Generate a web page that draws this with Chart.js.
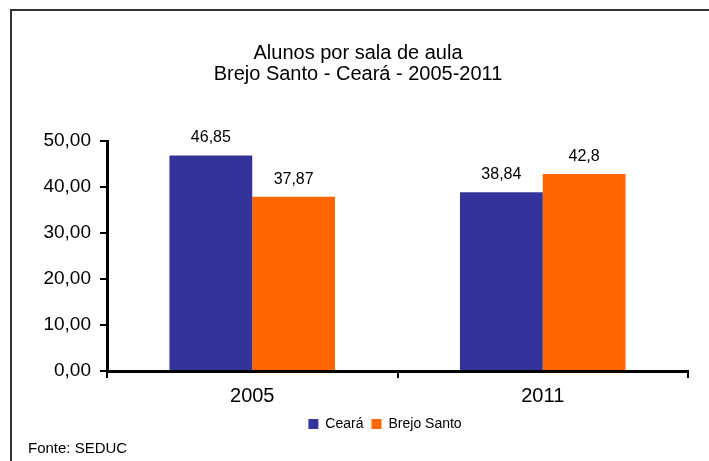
<!DOCTYPE html>
<html>
<head>
<meta charset="utf-8">
<script src="https://cdn.jsdelivr.net/npm/chart.js@4"></script>
<style>
    body { margin: 0; background: #fff; }
    #wrap { width: 709px; height: 461px; }
</style>
</head>
<body>
<div id="wrap"><canvas id="grafico" width="709" height="461"></canvas></div>
<script>
const anos = ['2005', '2011'];
const ceara = [46.85, 38.84];
const brejoSanto = [37.87, 42.8];
const titulo = ['Alunos por sala de aula', 'Brejo Santo - Ceará - 2005-2011'];
const fonte = 'Fonte: SEDUC';

const FAMILIA = '"Liberation Sans", Arial, sans-serif';

function virgula(v) {
    return String(v).replace('.', ',');
}

// moldura (so esquerda e topo aparecem no recorte)
const moldura = {
    id: 'moldura',
    beforeDraw(chart) {
        const ctx = chart.ctx;
        ctx.save();
        ctx.fillStyle = '#fff';
        ctx.fillRect(0, 0, chart.width, chart.height);
        ctx.strokeStyle = '#333';
        ctx.lineWidth = 2;
        ctx.beginPath();
        ctx.moveTo(11, chart.height);
        ctx.lineTo(11, 10);
        ctx.lineTo(chart.width, 10);
        ctx.stroke();
        ctx.restore();

        // legenda um pouco deslocada para a direita, como no original
        if (chart.legend && !chart.legend._deslocada) {
            chart.legend.left += 27;
            chart.legend.right += 27;
            chart.legend._deslocada = true;
        }
    },
    afterLayout(chart) {
        if (chart.legend) chart.legend._deslocada = false;
    }
};

const rotulos = {
    id: 'rotulos',
    afterDatasetsDraw(chart) {
        const ctx = chart.ctx;
        ctx.save();
        ctx.font = '16px ' + FAMILIA;
        ctx.fillStyle = '#000';
        ctx.textAlign = 'center';
        ctx.textBaseline = 'alphabetic';
        chart.data.datasets.forEach((ds, i) => {
            chart.getDatasetMeta(i).data.forEach((bar, j) => {
                ctx.fillText(virgula(ds.data[j]), bar.x, bar.y - 13);
            });
        });
        ctx.restore();
    }
};

new Chart(document.getElementById('grafico'), {
    type: 'bar',
    data: {
        labels: anos,
        datasets: [
            { label: 'Ceará', data: ceara, backgroundColor: '#333399', borderWidth: 0 },
            { label: 'Brejo Santo', data: brejoSanto, backgroundColor: '#FF6600', borderWidth: 0 }
        ]
    },
    options: {
        responsive: false,
        animation: false,
        devicePixelRatio: 1,
        layout: { padding: { left: 28, right: 21, top: 0, bottom: 5 } },
        datasets: { bar: { categoryPercentage: 0.57, barPercentage: 1 } },
        plugins: {
            title: {
                display: true,
                text: titulo,
                color: '#000',
                font: { family: FAMILIA, size: 20, weight: 'normal', lineHeight: 1.05 },
                padding: { top: 43, bottom: 56 }
            },
            subtitle: {
                display: true,
                text: fonte,
                position: 'bottom',
                align: 'start',
                color: '#000',
                font: { family: FAMILIA, size: 15, weight: 'normal', lineHeight: 1.0 },
                padding: 0
            },
            legend: {
                position: 'bottom',
                labels: {
                    boxWidth: 10,
                    boxHeight: 10,
                    padding: 8,
                    color: '#000',
                    font: { family: FAMILIA, size: 14 }
                }
            },
            tooltip: { enabled: false }
        },
        scales: {
            x: {
                afterFit(scale) { scale.height -= 5; },
                grid: { drawOnChartArea: false, drawTicks: true, tickLength: 7, color: '#000', lineWidth: 2, offset: true },
                border: { display: true, color: '#000', width: 3 },
                ticks: { color: '#000', padding: 6, font: { family: FAMILIA, size: 20 } }
            },
            y: {
                min: 0,
                max: 50,
                afterFit(scale) { scale.width = 79; },
                grid: { drawOnChartArea: false, drawTicks: true, tickLength: 7, color: '#000', lineWidth: 2 },
                border: { display: true, color: '#000', width: 3 },
                ticks: {
                    stepSize: 10,
                    color: '#000',
                    padding: 9,
                    font: { family: FAMILIA, size: 19 },
                    callback: (v) => v.toFixed(2).replace('.', ',')
                }
            }
        }
    },
    plugins: [moldura, rotulos]
});
</script>
</body>
</html>
